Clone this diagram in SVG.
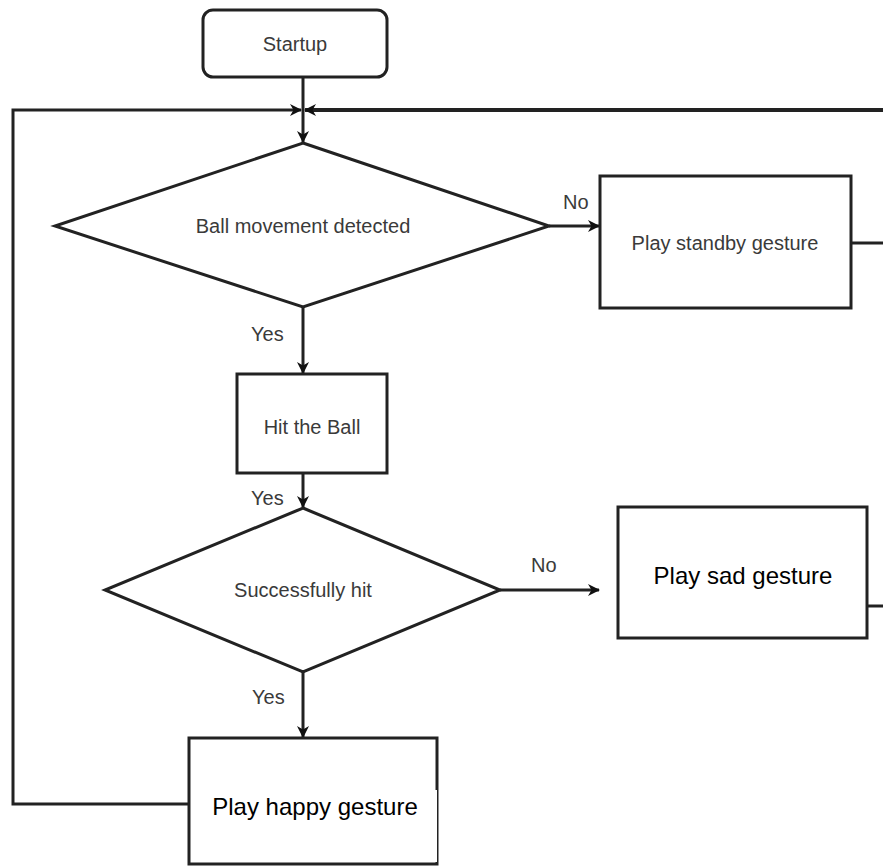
<svg xmlns="http://www.w3.org/2000/svg" width="883" height="868" viewBox="0 0 883 868">
<defs>
<marker id="arr" viewBox="0 0 12 12" refX="11" refY="6" markerWidth="12" markerHeight="12" markerUnits="userSpaceOnUse" orient="auto">
<path d="M0,0 L12,6 L0,12 L3.5,6 Z" fill="#111"/>
</marker>
<style>
.box{fill:#fff;stroke:#222;stroke-width:3}
.ln{fill:none;stroke:#222;stroke-width:3}
.t{font-family:"Liberation Sans",Arial,sans-serif;font-size:20px;fill:#3a3a3a;text-anchor:middle}
.tb{font-family:"Liberation Sans",Arial,sans-serif;font-size:24px;fill:#000;text-anchor:middle}
.lb{font-family:"Liberation Sans",Arial,sans-serif;font-size:20px;fill:#3a3a3a}
</style>
</defs>
<rect width="883" height="868" fill="#fff"/>
<g id="connectors">
<line class="ln" x1="303" y1="78" x2="303" y2="142" marker-end="url(#arr)"/>
<polyline class="ln" points="190,804 13,804 13,110 301,110" marker-end="url(#arr)"/>
<line x1="883" y1="110" x2="305" y2="110" stroke="#222" stroke-width="4" marker-end="url(#arr)"/>
<line class="ln" x1="850" y1="243" x2="883" y2="243"/>
<line class="ln" x1="867" y1="606" x2="883" y2="606"/>
<line class="ln" x1="549" y1="226" x2="599" y2="226" marker-end="url(#arr)"/>
<line class="ln" x1="303" y1="307" x2="303" y2="373" marker-end="url(#arr)"/>
<line class="ln" x1="303" y1="473" x2="303" y2="507" marker-end="url(#arr)"/>
<line class="ln" x1="500" y1="590" x2="599" y2="590" marker-end="url(#arr)"/>
<line class="ln" x1="303" y1="672" x2="303" y2="737" marker-end="url(#arr)"/>
<text class="lb" x="563" y="209">No</text>
<text class="lb" x="251" y="341">Yes</text>
<text class="lb" x="251" y="505">Yes</text>
<text class="lb" x="531" y="572">No</text>
<text class="lb" x="252" y="704">Yes</text>
</g>
<g id="startup">
<rect class="box" x="203" y="10" width="184" height="67" rx="10"/>
<text class="t" x="295" y="51">Startup</text>
</g>
<g id="ball-movement">
<polygon class="box" points="303,143 549,226 303,307 55,226"/>
<text class="t" x="303" y="233">Ball movement detected</text>
</g>
<g id="standby">
<rect class="box" x="600" y="176" width="251" height="132"/>
<text class="t" x="725" y="250">Play standby gesture</text>
</g>
<g id="hit-ball">
<rect class="box" x="237" y="374" width="150" height="99"/>
<text class="t" x="312" y="434">Hit the Ball</text>
</g>
<g id="successfully-hit">
<polygon class="box" points="303,508 500,590 303,672 105,590"/>
<text class="t" x="303" y="597">Successfully hit</text>
</g>
<g id="sad">
<rect class="box" x="618" y="507" width="249" height="131"/>
<text class="tb" x="743" y="584">Play sad gesture</text>
</g>
<g id="happy">
<rect class="box" x="189" y="738" width="248" height="126"/>
<rect x="210" y="790" width="227" height="72" fill="#fff"/>
<text class="tb" x="315" y="815">Play happy gesture</text>
</g>
</svg>
